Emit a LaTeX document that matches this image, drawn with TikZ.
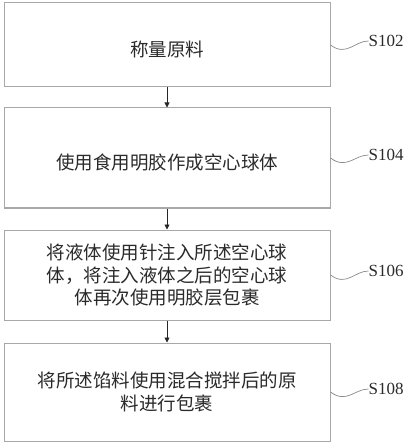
\documentclass[tikz,border=0pt]{standalone}
\usepackage{fontspec}
\usepackage{tikz}
\usetikzlibrary{arrows.meta,positioning}
\setmainfont{Liberation Serif}
\newfontfamily\cjk{Noto Sans CJK SC}
\definecolor{boxgray}{HTML}{A8A8A8}
\definecolor{wavegray}{HTML}{8A8A8A}
\definecolor{txtgray}{HTML}{2A2A2A}

\begin{document}
\begin{tikzpicture}[
    procbox/.style={draw=boxgray, fill=white, rectangle, minimum width=326pt, align=center, line width=1pt, text=txtgray, font=\cjk\fontsize{18.5}{22.5}\selectfont, inner sep=0pt, execute at begin node={\rule{0pt}{24pt}}},
    arrow/.style={-{Triangle[width=5pt,length=5pt]}, draw=black!85, line width=0.8pt},
    wave/.style={draw=wavegray, line width=0.7pt},
    steplabel/.style={font=\fontsize{17}{17}\selectfont, text=txtgray, inner sep=0pt}
  ]
    \useasboundingbox (0,0) rectangle (410pt,-443pt);
    \node[procbox, minimum height=84pt] (b1) at (167pt,-45pt) {称量原料};
    \node[procbox, minimum height=100pt, below=20pt of b1] (b2) {使用食用明胶作成空心球体};
    \node[procbox, minimum height=90pt, below=21pt of b2] (b3) {将液体使用针注入所述空心球\\体，将注入液体之后的空心球\\体再次使用明胶层包裹};
    \node[procbox, minimum height=98pt, below=22pt of b3] (b4) {将所述馅料使用混合搅拌后的原\\料进行包裹};
    \draw[arrow] (b1) -- (b2);
    \draw[arrow] (b2) -- (b3);
    \draw[arrow] (b3) -- (b4);
    % step labels with wavy leaders
    \node[steplabel, right=38pt of b1.east, yshift=4pt] (l1) {S102};
    \node[steplabel, right=38pt of b2.east, yshift=3pt] (l2) {S104};
    \node[steplabel, right=38pt of b3.east, yshift=4pt] (l3) {S106};
    \node[steplabel, right=38pt of b4.east, yshift=3pt] (l4) {S108};
    \draw[wave] (b1.east) .. controls +(16pt,-12pt) and +(-14pt,0pt) .. (l1.west);
    \draw[wave] (b2.east) .. controls +(16pt,-12pt) and +(-14pt,0pt) .. (l2.west);
    \draw[wave] (b3.east) .. controls +(16pt,-12pt) and +(-14pt,0pt) .. (l3.west);
    \draw[wave] (b4.east) .. controls +(16pt,-12pt) and +(-14pt,0pt) .. (l4.west);
  \end{tikzpicture}
\end{document}
